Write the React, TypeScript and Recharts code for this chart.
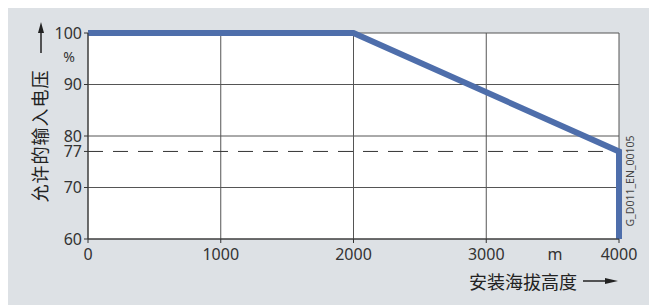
import { LineChart, Line, XAxis, YAxis, CartesianGrid, ReferenceLine } from "recharts";

const altitude = [0, 2000, 4000, 4000];
const voltage = [100, 100, 77, 60];
const xTicks = [0, 1000, 2000, 3000, 4000];
const yTicks = [60, 70, 77, 80, 90, 100];
const gridY = [60, 70, 80, 90, 100];
const limitValue = 77;

const data = altitude.map((x, i) => ({ x, y: voltage[i] }));

const tickStyle = { fill: "#333", fontSize: 16, fontFamily: "Noto Sans" };
const cjk = "'Noto Sans CJK SC', sans-serif";

export default function App() {
  return (
    <div
      style={{
        position: "relative",
        width: 641,
        height: 300,
        marginTop: -3,
        background: "#dde1e5",
      }}
    >
      <LineChart
        width={641}
        height={300}
        data={data}
        margin={{ top: 28, right: 30, left: 0, bottom: 36 }}
      >
        <CartesianGrid horizontal={false} vertical={false} fill="#fff" fillOpacity={1} />
        <XAxis
          dataKey="x"
          type="number"
          domain={[0, 4000]}
          ticks={xTicks}
          height={30}
          tickSize={4}
          tickMargin={6}
          tick={tickStyle}
          axisLine={{ stroke: "#333" }}
          tickLine={{ stroke: "#333" }}
          interval={0}
        />
        <YAxis
          type="number"
          domain={[60, 100]}
          ticks={yTicks}
          width={80}
          tickSize={4}
          tickMargin={2}
          tick={tickStyle}
          axisLine={{ stroke: "#333" }}
          tickLine={{ stroke: "#333" }}
          interval={0}
        />
        {gridY.map((v) => (
          <ReferenceLine key={"gy" + v} y={v} stroke="#555" />
        ))}
        {xTicks.map((v) => (
          <ReferenceLine key={"gx" + v} x={v} stroke="#555" />
        ))}
        <ReferenceLine y={limitValue} stroke="#333" strokeDasharray="15 10" />
        <Line
          type="linear"
          dataKey="y"
          stroke="#4e6eab"
          strokeWidth={6}
          dot={false}
          isAnimationActive={false}
        />
      </LineChart>
      <svg
        width={641}
        height={300}
        style={{ position: "absolute", left: 0, top: 0, pointerEvents: "none" }}
      >
        <text
          x={31}
          y={131}
          transform="rotate(-90 31 131)"
          textAnchor="middle"
          dominantBaseline="central"
          fontSize={18}
          fontFamily={cjk}
          letterSpacing={1}
          fill="#222"
        >
          允许的输入电压
        </text>
        <line x1={33} y1={48} x2={33} y2={26} stroke="#222" strokeWidth={1.5} />
        <polygon points="33,17 30,28 36,28" fill="#222" />
        <text x={61} y={57} textAnchor="middle" fontSize={14} fontFamily="Noto Sans" fill="#333">
          %
        </text>
        <text x={547} y={255} textAnchor="middle" fontSize={16} fontFamily="Noto Sans" fill="#333">
          m
        </text>
        <text
          x={515}
          y={276}
          textAnchor="middle"
          dominantBaseline="central"
          fontSize={18}
          fontFamily={cjk}
          fill="#222"
        >
          安装海拔高度
        </text>
        <line x1={575} y1={276} x2={598} y2={276} stroke="#222" strokeWidth={1.5} />
        <polygon points="610,276 597,273 597,279" fill="#222" />
        <text
          x={622}
          y={176}
          transform="rotate(-90 622 176)"
          textAnchor="middle"
          dominantBaseline="central"
          fontSize={10.5}
          fontFamily="Noto Sans"
          fill="#444"
        >
          G_D011_EN_00105
        </text>
      </svg>
    </div>
  );
}
